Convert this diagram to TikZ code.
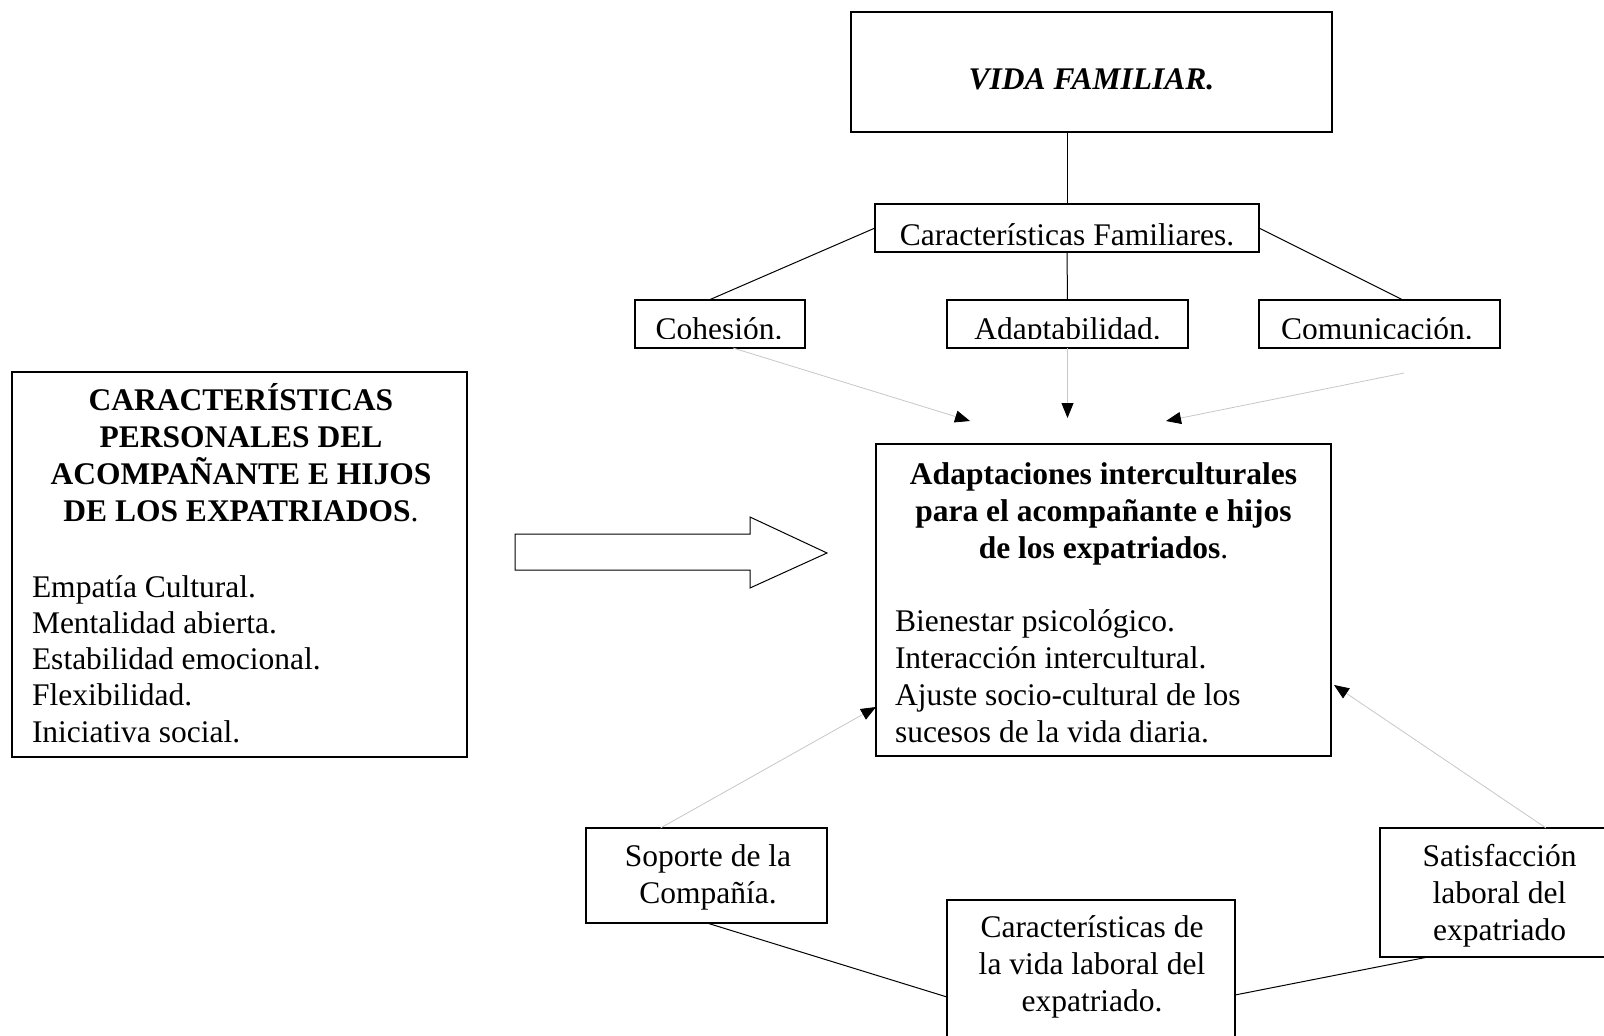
\documentclass[tikz,border=0pt]{standalone}
\usepackage{fontspec}
\setmainfont{Liberation Serif}
\usetikzlibrary{arrows.meta}
\begin{document}
\begin{tikzpicture}[x=1pt,y=-1pt,
  every node/.style={font=\fontsize{31.5}{36.8}\selectfont, inner sep=0pt, outer sep=0pt},
  box/.style={draw, line width=1.2pt, rectangle, inner sep=0pt},
  conn/.style={line width=1pt},
  garrow/.style={draw=black!22, line width=0.8pt, -{Triangle[length=15pt,width=12pt,color=black]}},
  blockarrow/.style={draw, line width=1pt, fill=white}
  ]
\useasboundingbox (0,0) rectangle (1604,1036);
\clip (0,0) rectangle (1604,1036);

% boxes
\node[box, minimum width=481pt, minimum height=120pt] (vida) at (1091.5,72) {};
\node[box, minimum width=384pt, minimum height=48pt] (cf) at (1067,228) {};
\node[box, minimum width=170pt, minimum height=48pt] (coh) at (720,324) {};
\node[box, minimum width=241pt, minimum height=48pt] (adap) at (1067.5,324) {};
\node[box, minimum width=241pt, minimum height=48pt] (com) at (1379.5,324) {};
\node[box, minimum width=455pt, minimum height=385pt] (pers) at (239.5,564.5) {};
\node[box, minimum width=455pt, minimum height=312pt] (main) at (1103.5,600) {};
\node[box, minimum width=241pt, minimum height=95pt] (sop) at (706.5,875.5) {};
\node[box, minimum width=288pt, minimum height=160pt] (lab) at (1091,980) {};
\node[box, minimum width=238pt, minimum height=129pt] (sat) at (1499,892.5) {};

% texts (anchor=base of a multi-line node = baseline of its last line)
\node[anchor=base, font=\fontsize{31.5}{36.8}\selectfont\bfseries\itshape] (vidatext) at (1091.5,89) {VIDA FAMILIAR.};
\begin{scope}
  \clip (cf.north west) rectangle ([yshift=7pt]cf.south east);
  \node[anchor=base] (cftext) at (1067,245.5) {Características Familiares.};
\end{scope}
\begin{scope}
  \clip (coh.north west) rectangle ([yshift=9.5pt]coh.south east);
  \node[anchor=base] (cohtext) at (719,339) {Cohesión.};
\end{scope}
\begin{scope}
  \clip (adap.north west) rectangle ([yshift=9.5pt]adap.south east);
  \node[anchor=base] (adaptext) at (1067.5,339) {Adaptabilidad.};
\end{scope}
\begin{scope}
  \clip (com.north west) rectangle ([yshift=9.5pt]com.south east);
  \node[anchor=base] (comtext) at (1377,339) {Comunicación.};
\end{scope}

\node[anchor=base, align=center] (perstitle) at (241,521)
  {\textbf{CARACTERÍSTICAS}\\\textbf{PERSONALES DEL}\\\textbf{ACOMPAÑANTE E HIJOS}\\\textbf{DE LOS EXPATRIADOS}.};
\node[anchor=base west, align=left, font=\fontsize{31.5}{36.1}\selectfont] (perslist) at (32,742)
  {Empatía Cultural.\\Mentalidad abierta.\\Estabilidad emocional.\\Flexibilidad.\\Iniciativa social.};

\node[anchor=base, align=center] (maintitle) at (1103.5,558)
  {\textbf{Adaptaciones interculturales}\\\textbf{para el acompañante e hijos}\\\textbf{de los expatriados}.};
\node[anchor=base west, align=left] (mainlist) at (895,742)
  {Bienestar psicológico.\\Interacción intercultural.\\Ajuste socio-cultural de los\\sucesos de la vida diaria.};

\node[anchor=base, align=center] (soptext) at (708,903) {Soporte de la\\Compañía.};
\node[anchor=base, align=center] (labtext) at (1092,1011) {Características de\\la vida laboral del\\expatriado.};
\node[anchor=base, align=center] (sattext) at (1499.5,940) {Satisfacción\\laboral del\\expatriado};

% black connectors
\draw[conn] ([xshift=-24.5pt]vida.south) -- (cf.north);
\draw[conn] (cf.south) -- (adap.north);
\draw[conn] (cf.west) -- ([xshift=-11pt]coh.north);
\draw[conn] (cf.east) -- ([xshift=23.5pt]com.north);
\draw[conn] ([xshift=0.5pt]sop.south) -- ([yshift=-17pt]lab.west);
\draw[conn] ([yshift=-15pt]lab.east) -- ([xshift=-71pt]sat.south);

% gray arrows
\coordinate (t1) at (970,421);
\coordinate (t2) at (1067.5,418);
\coordinate (t3) at (1166,421);
\coordinate (s3) at (1404,373);
\draw[garrow] ([xshift=13pt]coh.south) -- (t1);
\draw[garrow] (adap.south) -- (t2);
\draw[garrow] (s3) -- (t3);
\draw[garrow] ([xshift=-46pt]sop.north) -- ([yshift=-107pt]main.west);
\draw[garrow] ([xshift=47pt]sat.north) -- ([xshift=3pt,yshift=-85pt]main.east);

% block arrow
\draw[blockarrow] (515,534) -- (750,534) -- (750,517) -- (827,553) -- (750,588) -- (750,570) -- (515,570) -- cycle;
\end{tikzpicture}
\end{document}
